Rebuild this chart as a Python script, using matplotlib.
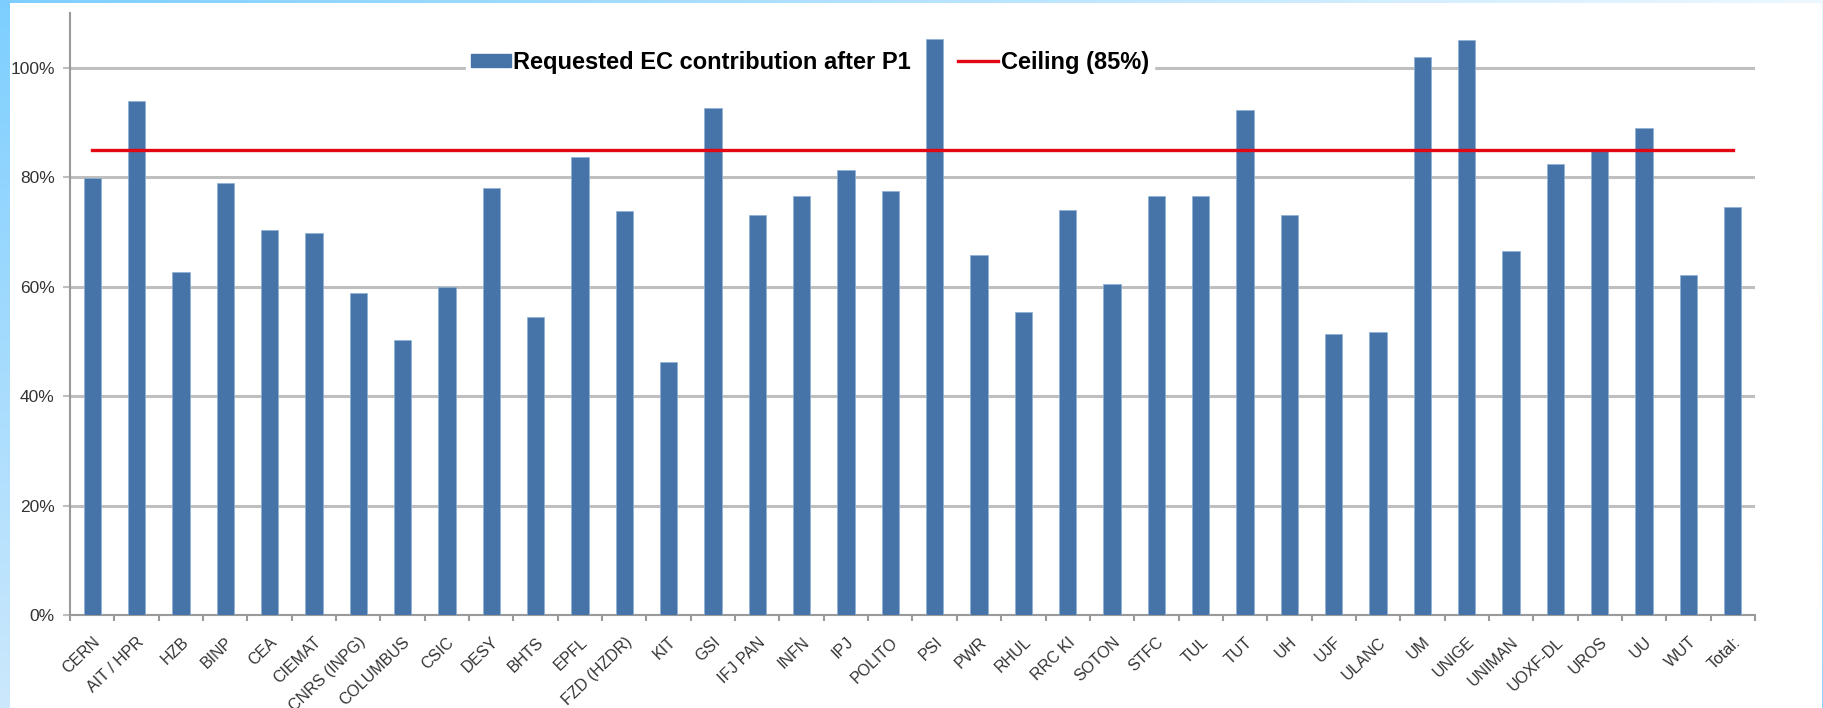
import numpy as np
import matplotlib
matplotlib.use('Agg')
import matplotlib.pyplot as plt
from matplotlib.lines import Line2D
from matplotlib.patches import Patch

labels = ['CERN', 'AIT / HPR', 'HZB', 'BINP', 'CEA', 'CIEMAT', 'CNRS (INPG)',
          'COLUMBUS', 'CSIC', 'DESY', 'BHTS', 'EPFL', 'FZD (HZDR)', 'KIT',
          'GSI', 'IFJ PAN', 'INFN', 'IPJ', 'POLITO', 'PSI', 'PWR', 'RHUL',
          'RRC KI', 'SOTON', 'STFC', 'TUL', 'TUT', 'UH', 'UJF', 'ULANC', 'UM',
          'UNIGE', 'UNIMAN', 'UOXF-DL', 'UROS', 'UU', 'WUT', 'Total:']
requested = [79.8, 94.0, 62.6, 78.9, 70.4, 69.8, 58.9, 50.2, 60.0, 78.1,
             54.5, 83.6, 73.8, 46.2, 92.6, 73.0, 76.6, 81.3, 77.4, 105.3,
             65.7, 55.3, 74.0, 60.4, 76.6, 76.6, 92.3, 73.0, 51.3, 51.7,
             102.0, 105.0, 66.6, 82.5, 85.2, 89.0, 62.1, 74.6]
ceiling = [85] * len(labels)
yticks = [0, 20, 40, 60, 80, 100]

bar_color = '#4674a9'
grid_color = '#bfbfbf'
axis_color = '#9a9a9a'
text_color = '#333333'

fig = plt.figure(figsize=(18.24, 7.08), dpi=100)

# blue slide border (decoration)
bg = fig.add_axes([0, 0, 1, 1], zorder=-5)
bg.axis('off')
h = 708
left_grad = np.zeros((h, 1, 3))
top_c = np.array([0.49, 0.81, 1.0])
bot_c = np.array([0.80, 0.91, 0.99])
for i in range(h):
    t = i / (h - 1)
    left_grad[i, 0] = top_c * (1 - t) + bot_c * t
bg.imshow(left_grad, extent=[0, 10, 708, 0], aspect='auto')
top_grad = np.zeros((1, 200, 3))
for j in range(200):
    t = j / 199
    top_grad[0, j] = np.array([0.49, 0.81, 1.0]) * (1 - t) + np.array([0.93, 0.97, 1.0]) * t
bg.imshow(top_grad, extent=[0, 1824, 3, 0], aspect='auto')
right_grad = np.zeros((h, 1, 3))
for i in range(h):
    t = i / (h - 1)
    right_grad[i, 0] = np.array([0.92, 0.96, 1.0]) * (1 - t) + np.array([0.55, 0.83, 1.0]) * t
bg.imshow(right_grad, extent=[1822, 1824, 708, 0], aspect='auto')
bg.set_xlim(0, 1824)
bg.set_ylim(708, 0)

ax = fig.add_axes([70 / 1824, 1 - 615 / 708, 1685 / 1824, (615 - 13) / 708])
ax.patch.set_alpha(0)

x = np.arange(len(labels))
ax.bar(x, requested, width=0.39, color=bar_color, zorder=3,
       edgecolor='#8fb0d6', linewidth=0.5)
ax.plot(x, ceiling, color='#e30613', linewidth=2.4, zorder=4)

ax.set_xlim(-0.5, len(labels) - 0.5)
ax.set_ylim(0, 110)
ax.set_yticks(yticks)
ax.set_yticklabels([f'{v}%' for v in yticks])
ax.yaxis.grid(True, color=grid_color, linewidth=2.2)
ax.set_axisbelow(True)

ax.set_xticks(x)
ax.set_xticklabels(labels, rotation=44, ha='right', rotation_mode='anchor')
ax.set_xticks(np.arange(-0.5, len(labels), 1), minor=True)
ax.tick_params(axis='x', which='major', length=0, pad=14,
               labelsize=11.5, labelcolor=text_color)
ax.tick_params(axis='x', which='minor', length=4.5, width=1.5, color=axis_color)
ax.tick_params(axis='y', length=5, width=1.5, color=grid_color, pad=6,
               labelsize=12.5, labelcolor=text_color)
for lab in ax.get_xticklabels() + ax.get_yticklabels():
    lab.set_family(['Liberation Sans', 'DejaVu Sans'])

for s in ['top', 'right']:
    ax.spines[s].set_visible(False)
for s in ['left', 'bottom']:
    ax.spines[s].set_color(axis_color)
    ax.spines[s].set_linewidth(1.5)

handles = [Patch(facecolor=bar_color, edgecolor=bar_color),
           Line2D([0], [0], color='#e30613', linewidth=2.4)]
leg = ax.legend(handles, ['Requested EC contribution after P1', 'Ceiling (85%)'],
                loc='center left', bbox_to_anchor=(0.235, 0.918), ncol=2,
                frameon=True, fancybox=False, framealpha=1, edgecolor='white',
                borderpad=0.2, borderaxespad=0, handlelength=1.7,
                handleheight=0.45, handletextpad=0.1, columnspacing=2.0,
                prop={'family': ['Liberation Sans Narrow', 'Liberation Sans'],
                      'weight': 'bold', 'size': 17})
leg.set_zorder(2)

fig.savefig('out.png', dpi=100)
